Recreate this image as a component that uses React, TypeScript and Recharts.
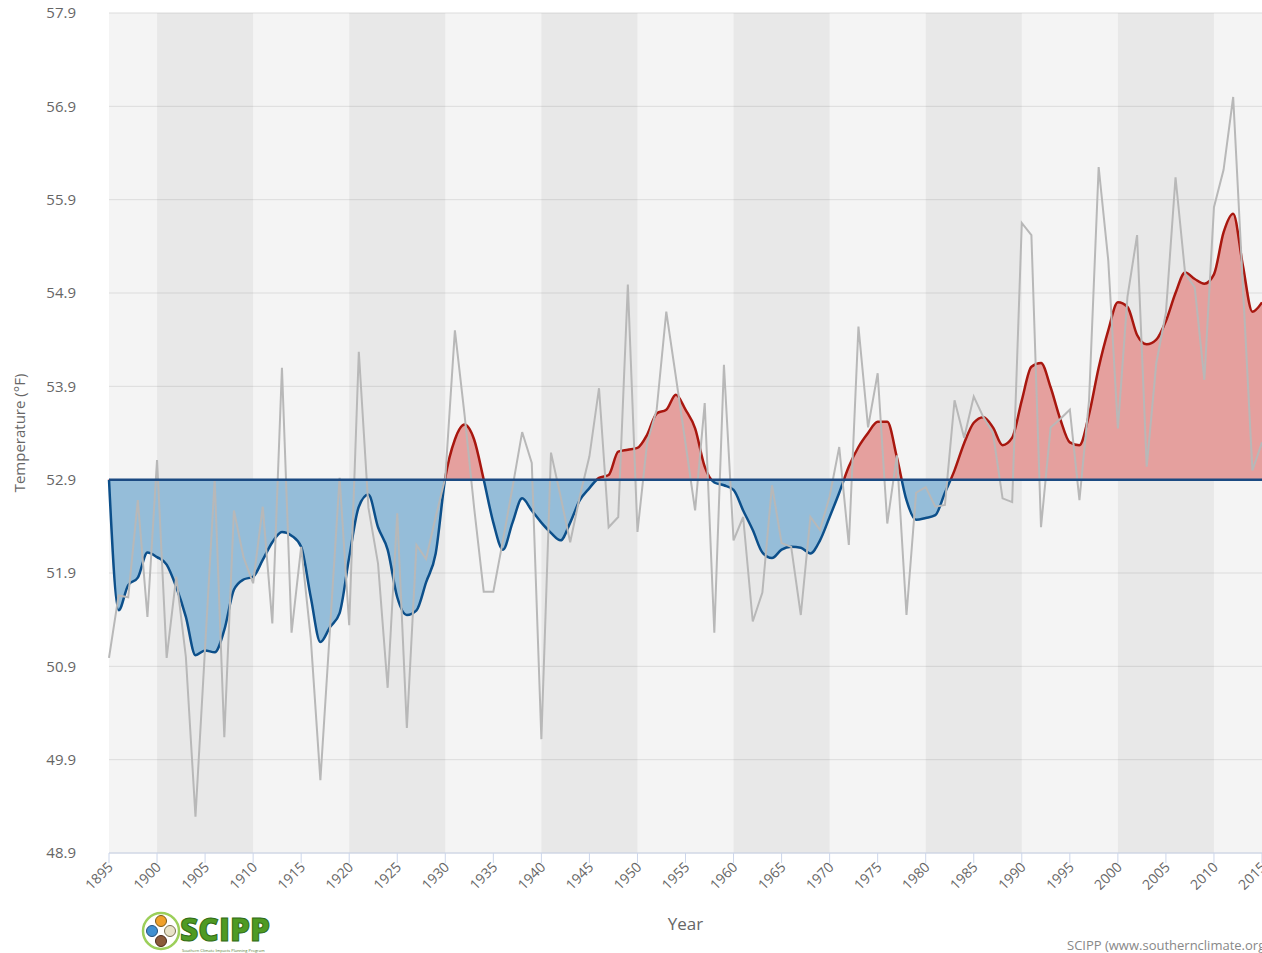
import React from 'react';
import {
  ComposedChart,
  Area,
  Line,
  XAxis,
  YAxis,
  CartesianGrid,
  ReferenceArea,
  ReferenceLine,
} from 'recharts';

// annual mean temperature, one value per year from 1895
const START_YEAR = 1895;

const annualTemps = [
  50.99, 51.66, 51.64, 52.68, 51.43, 53.11, 50.99, 51.86, 51.0, 49.29,
  51.1, 52.9, 50.14, 52.57, 52.07, 51.79, 52.61, 51.36, 54.1, 51.26,
  52.18, 51.2, 49.68, 51.3, 52.92, 51.34, 54.27, 52.6, 52.0, 50.67,
  52.54, 50.24, 52.2, 52.05, 52.5, 52.92, 54.5, 53.6, 52.6, 51.7,
  51.7, 52.25, 52.82, 53.41, 53.08, 50.12, 53.19, 52.72, 52.23, 52.72,
  53.15, 53.88, 52.39, 52.5, 54.99, 52.34, 53.29, 53.65, 54.7, 54.0,
  53.29, 52.57, 53.72, 51.26, 54.13, 52.25, 52.5, 51.38, 51.69, 52.84,
  52.22, 52.18, 51.45, 52.5, 52.36, 52.72, 53.25, 52.2, 54.54, 53.46,
  54.04, 52.43, 53.16, 51.45, 52.76, 52.82, 52.61, 52.63, 53.75, 53.35,
  53.79, 53.57, 53.4, 52.7, 52.66, 55.65, 55.52, 52.39, 53.46, 53.55,
  53.65, 52.68, 53.75, 56.25, 55.25, 53.45, 54.86, 55.52, 53.04, 54.15,
  54.69, 56.14, 55.11, 54.96, 53.97, 55.82, 56.22, 57.0, 55.0, 53.0,
  53.3,
];

// smoothed curve
const smoothTemps = [
  52.9, 51.5, 51.77, 51.85, 52.12, 52.07, 51.99, 51.75, 51.43, 51.02,
  51.07, 51.05, 51.29, 51.72, 51.83, 51.86, 52.04, 52.23, 52.34, 52.3,
  52.18, 51.64, 51.16, 51.32, 51.47, 52.07, 52.61, 52.74, 52.39, 52.15,
  51.64, 51.45, 51.5, 51.8, 52.11, 52.92, 53.33, 53.49, 53.33, 52.9,
  52.44, 52.15, 52.44, 52.7, 52.57, 52.44, 52.33, 52.25, 52.44, 52.68,
  52.81, 52.92, 52.95, 53.2, 53.22, 53.24, 53.38, 53.61, 53.65, 53.81,
  53.65, 53.45, 53.04, 52.87, 52.84, 52.79, 52.57, 52.36, 52.12, 52.06,
  52.15, 52.18, 52.17, 52.11, 52.25, 52.5, 52.76, 53.04, 53.25, 53.4,
  53.52, 53.52, 53.14, 52.68, 52.47, 52.49, 52.52, 52.76, 53.0, 53.29,
  53.51, 53.57, 53.46, 53.27, 53.35, 53.75, 54.11, 54.15, 53.89, 53.55,
  53.3, 53.27, 53.6, 54.1, 54.5, 54.8, 54.75, 54.45, 54.35, 54.4,
  54.6, 54.9, 55.12, 55.05, 55.0, 55.1, 55.55, 55.75, 55.2, 54.7,
  54.8,
];

const BASELINE = 52.9;

const yTicks = [48.9, 49.9, 50.9, 51.9, 52.9, 53.9, 54.9, 55.9, 56.9, 57.9];
const xTicks = [
  1895, 1900, 1905, 1910, 1915, 1920, 1925, 1930, 1935, 1940, 1945, 1950, 1955,
  1960, 1965, 1970, 1975, 1980, 1985, 1990, 1995, 2000, 2005, 2010, 2015,
];
const darkBands = [
  [1900, 1910],
  [1920, 1930],
  [1940, 1950],
  [1960, 1970],
  [1980, 1990],
  [2000, 2010],
];

const data = annualTemps.map((t, i) => ({
  year: START_YEAR + i,
  annual: t,
  smooth: smoothTemps[i],
}));

const sMax = Math.max(...smoothTemps);
const sMin = Math.min(...smoothTemps);
const splitOffset = (sMax - BASELINE) / (sMax - sMin);

const FONT = '"Open Sans", "DejaVu Sans", sans-serif';

const YearTick = (props: any) => {
  const { x, y, payload } = props;
  const tx = x + 5;
  const ty = y + 3;
  return (
    <text
      x={tx}
      y={ty}
      textAnchor="end"
      fontSize={14}
      fill="#666"
      fontFamily={FONT}
      transform={`rotate(-45 ${tx} ${ty})`}
    >
      {payload.value}
    </text>
  );
};

function Logo() {
  return (
    <svg width={160} height={48} style={{ position: 'absolute', left: 140, top: 907 }}>
      <circle cx={21} cy={24} r={18} fill="none" stroke="#9ccf5a" strokeWidth={2.5} />
      <circle cx={21} cy={14} r={5.5} fill="#f0a02a" stroke="#7a5a1a" strokeWidth={1} />
      <circle cx={12} cy={24} r={5.5} fill="#3f8fd0" stroke="#24507a" strokeWidth={1} />
      <circle cx={30} cy={24} r={5.5} fill="#e8e2c8" stroke="#7a7050" strokeWidth={1} />
      <circle cx={21} cy={34} r={5.5} fill="#8a5a3a" stroke="#4a2a1a" strokeWidth={1} />
      <text
        x={40}
        y={34}
        fontSize={32}
        fontWeight={900}
        fontFamily={FONT}
        fill="#4f9a23"
        stroke="#2f6a14"
        strokeWidth={1}
        textLength={90}
        lengthAdjust="spacingAndGlyphs"
      >
        SCIPP
      </text>
      <text x={42} y={45} fontSize={4} fill="#4f7a30" fontFamily={FONT}>
        Southern Climate Impacts Planning Program
      </text>
    </svg>
  );
}

export default function App() {
  return (
    <div
      style={{
        position: 'absolute',
        left: 0,
        top: 0,
        width: 1262,
        height: 953,
        overflow: 'hidden',
        background: '#fff',
        fontFamily: FONT,
      }}
    >
      <ComposedChart
        width={1262}
        height={953}
        data={data}
        margin={{ top: 13, right: 0, left: 0, bottom: 0 }}
      >
        <defs>
          <linearGradient id="smoothFill" x1="0" y1="0" x2="0" y2="1">
            <stop offset={splitOffset} stopColor="#e5a09e" />
            <stop offset={splitOffset} stopColor="#95bdd9" />
          </linearGradient>
          <linearGradient id="smoothStroke" x1="0" y1="0" x2="0" y2="1">
            <stop offset={splitOffset} stopColor="#a8170f" />
            <stop offset={splitOffset} stopColor="#0c4f8a" />
          </linearGradient>
        </defs>

        <CartesianGrid
          vertical={false}
          fill="#f4f4f4"
          fillOpacity={1}
          stroke="#dcdcdc"
          horizontalValues={yTicks}
        />
        {darkBands.map(([a, b]) => (
          <ReferenceArea
            key={a}
            x1={a}
            x2={b}
            y1={48.9}
            y2={57.9}
            fill="#000"
            fillOpacity={0.046}
            stroke="none"
          />
        ))}

        <XAxis
          dataKey="year"
          type="number"
          domain={[1895, 2015]}
          ticks={xTicks}
          interval={0}
          height={100}
          stroke="#ccd6eb"
          tickSize={10}
          tickMargin={2}
          tick={<YearTick />}
          label={{
            value: 'Year',
            position: 'insideBottom',
            offset: 23,
            fill: '#666',
            fontSize: 17,
            fontFamily: FONT,
          }}
        />
        <YAxis
          type="number"
          domain={[48.9, 57.9]}
          ticks={yTicks}
          interval={0}
          width={109}
          axisLine={false}
          tickLine={false}
          tickMargin={27}
          tick={{ fontSize: 15, fill: '#666', fontFamily: FONT }}
          tickFormatter={(v: number) => v.toFixed(1)}
          label={{
            value: 'Temperature (°F)',
            angle: -90,
            position: 'insideLeft',
            offset: 20,
            fill: '#666',
            fontSize: 15,
            fontFamily: FONT,
            style: { textAnchor: 'middle' },
          }}
        />

        <Area
          type="monotone"
          dataKey="smooth"
          baseValue={BASELINE}
          fill="url(#smoothFill)"
          fillOpacity={1}
          stroke="url(#smoothStroke)"
          strokeWidth={2.5}
          dot={false}
          activeDot={false}
          isAnimationActive={false}
        />
        <Line
          type="linear"
          dataKey="annual"
          stroke="#b8b8b8"
          strokeWidth={2}
          dot={false}
          activeDot={false}
          isAnimationActive={false}
        />
        <ReferenceLine y={BASELINE} stroke="#1b4a82" strokeWidth={2.5} />
      </ComposedChart>

      <Logo />
      <div
        style={{
          position: 'absolute',
          left: 1067,
          top: 936,
          fontSize: 13,
          color: '#888',
          whiteSpace: 'nowrap',
        }}
      >
        SCIPP (www.southernclimate.org)
      </div>
    </div>
  );
}
